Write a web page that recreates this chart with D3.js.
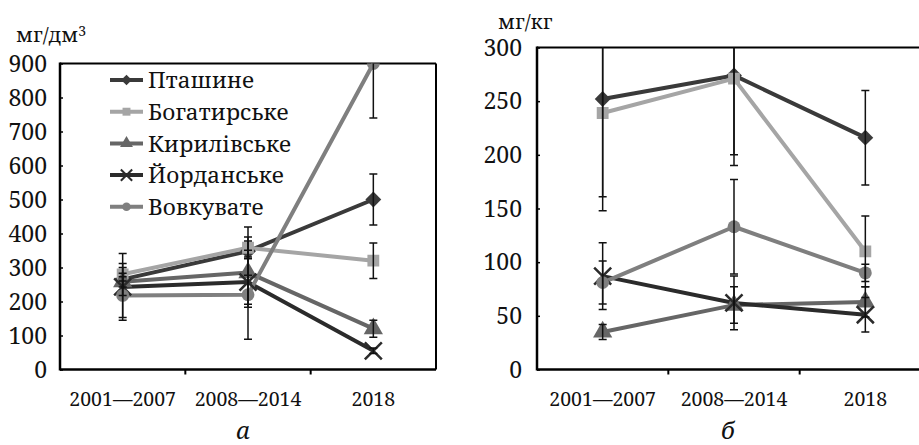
<!DOCTYPE html>
<html>
<head>
<meta charset="utf-8">
<script src="https://cdn.jsdelivr.net/npm/d3@7"></script>
<style>
  body { margin: 0; background: #fff; }
  svg text { fill: #111; }
</style>
</head>
<body>
<script>
const periods = ['2001—2007', '2008—2014', '2018']
const sites = ['Пташине', 'Богатирське', 'Кирилівське', 'Йорданське', 'Вовкувате']
const colors = ['#3a3a3a', '#a5a5a5', '#666666', '#2b2b2b', '#7f7f7f']

// вода, мг/дм3
const waterValues = [[265, 348, 500], [280, 358, 320], [258, 285, 120], [243, 257, 55], [218, 220, 900]]
const waterErrors = [[47, 71, 75], [20, 32, 52], [15, 93, 25], [98, 74, 8], [65, 131, 160]]
const waterTicks = [0, 100, 200, 300, 400, 500, 600, 700, 800, 900]

// ґрунт, мг/кг
const soilValues = [[252, 274, 216], [239, 271, 110], [35, 60, 63], [87, 62, 51], [81, 133, 90]]
const soilErrors = [[104, 84, 44], [78, 71, 33], [7, 17, 14], [31, 25, 16], [20, 44, 8]]
const soilTicks = [0, 50, 100, 150, 200, 250, 300]

const symbols = [d3.symbolDiamond2, d3.symbolSquare, d3.symbolTriangle, d3.symbolX, d3.symbolCircle]
const symSizes = [160, 140, 160, 190, 130]

const svg = d3.select('body').append('svg')
    .attr('width', 919)
    .attr('height', 445)
    .style('font-family', '"Noto Serif", "Liberation Serif", "DejaVu Serif", serif')

function panel(opts) {
    const { x0, x1, y0, y1, values, errors, ticks, unit, unitSup, unitX, unitY, caption, legend, id, rightBorder } = opts
    const g = svg.append('g')

    const xScale = d3.scaleBand()
        .domain(periods)
        .range([x0, x1])
    const yScale = d3.scaleLinear()
        .domain([0, d3.max(ticks)])
        .range([y1, y0])

    g.append('clipPath').attr('id', id)
        .append('rect')
        .attr('x', x0).attr('y', y0)
        .attr('width', x1 - x0).attr('height', y1 - y0)

    // рамка
    g.append('line')
        .attr('x1', x0).attr('x2', x1)
        .attr('y1', y0).attr('y2', y0)
        .style('stroke', '#000').style('stroke-width', 2)
    if (rightBorder) {
        g.append('line')
            .attr('x1', x1).attr('x2', x1)
            .attr('y1', y0).attr('y2', y1)
            .style('stroke', '#000').style('stroke-width', 2)
    }

    // осі
    const yAxis = g.append('g')
        .attr('transform', `translate(${x0}, 0)`)
        .call(d3.axisRight(yScale).tickValues(ticks).tickSize(3).tickFormat(''))
    yAxis.select('.domain').remove()
    yAxis.selectAll('line').style('stroke', '#000').style('stroke-width', 1.5)
    g.append('line')
        .attr('x1', x0).attr('x2', x0)
        .attr('y1', y0 - 1).attr('y2', y1 + 1)
        .style('stroke', '#000').style('stroke-width', 2.5)

    g.selectAll('.ylab')
        .data(ticks)
        .enter().append('text')
        .attr('class', 'ylab')
        .attr('x', x0 - opts.labGap)
        .attr('y', d => yScale(d))
        .attr('dy', '0.36em')
        .style('text-anchor', 'end')
        .style('font-size', '23px')
        .text(d => d)

    g.append('line')
        .attr('x1', x0).attr('x2', x1)
        .attr('y1', y1).attr('y2', y1)
        .style('stroke', '#000').style('stroke-width', 2.5)
    g.selectAll('.xtick')
        .data(periods.slice(1))
        .enter().append('line')
        .attr('x1', d => xScale(d)).attr('x2', d => xScale(d))
        .attr('y1', y1).attr('y2', y1 + 5)
        .style('stroke', '#000').style('stroke-width', 2)
    g.selectAll('.xlab')
        .data(periods)
        .enter().append('text')
        .attr('x', d => xScale(d) + xScale.bandwidth() / 2)
        .attr('y', y1 + 36)
        .style('text-anchor', 'middle')
        .style('font-size', '19.5px')
        .text(d => d)

    // одиниці
    const u = g.append('text')
        .attr('x', unitX)
        .attr('y', unitY)
        .style('font-size', '20.5px')
        .text(unit)
    if (unitSup) {
        u.append('tspan').attr('dy', '-0.45em').style('font-size', '14px').text(unitSup)
    }

    g.append('text')
        .attr('x', (x0 + Math.min(x1, 919)) / 2 + opts.capShift)
        .attr('y', 439)
        .style('text-anchor', 'middle')
        .style('font-size', '24px')
        .style('font-style', 'italic')
        .text(caption)

    const cx = d => xScale(d) + xScale.bandwidth() / 2
    const plot = g.append('g').attr('clip-path', `url(#${id})`)

    sites.forEach((site, s) => {
        const pts = periods.map((p, i) => ({ p, v: values[s][i], e: errors[s][i] }))
        plot.append('path')
            .datum(pts)
            .attr('d', d3.line().x(d => cx(d.p)).y(d => yScale(d.v)))
            .style('fill', 'none')
            .style('stroke', colors[s])
            .style('stroke-width', 4)
            .style('stroke-linejoin', 'round')
    })

    sites.forEach((site, s) => {
        const pts = periods.map((p, i) => ({ p, v: values[s][i], e: errors[s][i] }))
        const sym = d3.symbol().type(symbols[s]).size(symSizes[s])
        plot.selectAll(`.m${s}`)
            .data(pts)
            .enter().append('path')
            .attr('transform', d => `translate(${cx(d.p)}, ${yScale(d.v)})`)
            .attr('d', sym)
            .style('fill', symbols[s] === d3.symbolX ? 'none' : colors[s])
            .style('stroke', colors[s])
            .style('stroke-width', symbols[s] === d3.symbolX ? 2.5 : 0)
    })

    // похибки
    sites.forEach((site, s) => {
        const pts = periods.map((p, i) => ({ p, v: values[s][i], e: errors[s][i] }))
        const eb = plot.selectAll(`.e${s}`)
            .data(pts)
            .enter().append('g')
        eb.append('line')
            .attr('x1', d => cx(d.p)).attr('x2', d => cx(d.p))
            .attr('y1', d => yScale(d.v - d.e)).attr('y2', d => yScale(d.v + d.e))
            .style('stroke', '#111').style('stroke-width', 1.5)
        eb.append('line')
            .attr('x1', d => cx(d.p) - 4).attr('x2', d => cx(d.p) + 4)
            .attr('y1', d => yScale(d.v - d.e)).attr('y2', d => yScale(d.v - d.e))
            .style('stroke', '#111').style('stroke-width', 1.5)
        eb.append('line')
            .attr('x1', d => cx(d.p) - 4).attr('x2', d => cx(d.p) + 4)
            .attr('y1', d => yScale(d.v + d.e)).attr('y2', d => yScale(d.v + d.e))
            .style('stroke', '#111').style('stroke-width', 1.5)
    })

    if (legend) {
        const lg = g.append('g')
        sites.forEach((site, s) => {
            const y = 80 + s * 31.7
            lg.append('line')
                .attr('x1', 110).attr('x2', 143)
                .attr('y1', y).attr('y2', y)
                .style('stroke', colors[s]).style('stroke-width', 4)
            lg.append('path')
                .attr('transform', `translate(126.5, ${y})`)
                .attr('d', d3.symbol().type(symbols[s]).size(symSizes[s] * 0.45))
                .style('fill', symbols[s] === d3.symbolX ? 'none' : colors[s])
                .style('stroke', colors[s])
                .style('stroke-width', symbols[s] === d3.symbolX ? 2 : 0)
            lg.append('text')
                .attr('x', 148)
                .attr('y', y)
                .attr('dy', '0.36em')
                .style('font-size', '22.5px')
                .text(site)
        })
    }
}

panel({ x0: 60, x1: 436, y0: 63.5, y1: 369.5, values: waterValues, errors: waterErrors, ticks: waterTicks,
    unit: 'мг/дм', unitSup: '3', unitX: 16, unitY: 42, caption: 'а', legend: true, id: 'clipA', rightBorder: true, capShift: -5, labGap: 13 })
panel({ x0: 537, x1: 931, y0: 47.5, y1: 369.5, values: soilValues, errors: soilErrors, ticks: soilTicks,
    unit: 'мг/кг', unitSup: null, unitX: 498, unitY: 29, caption: 'б', legend: false, id: 'clipB', rightBorder: false, capShift: 0, labGap: 15 })
</script>
</body>
</html>
